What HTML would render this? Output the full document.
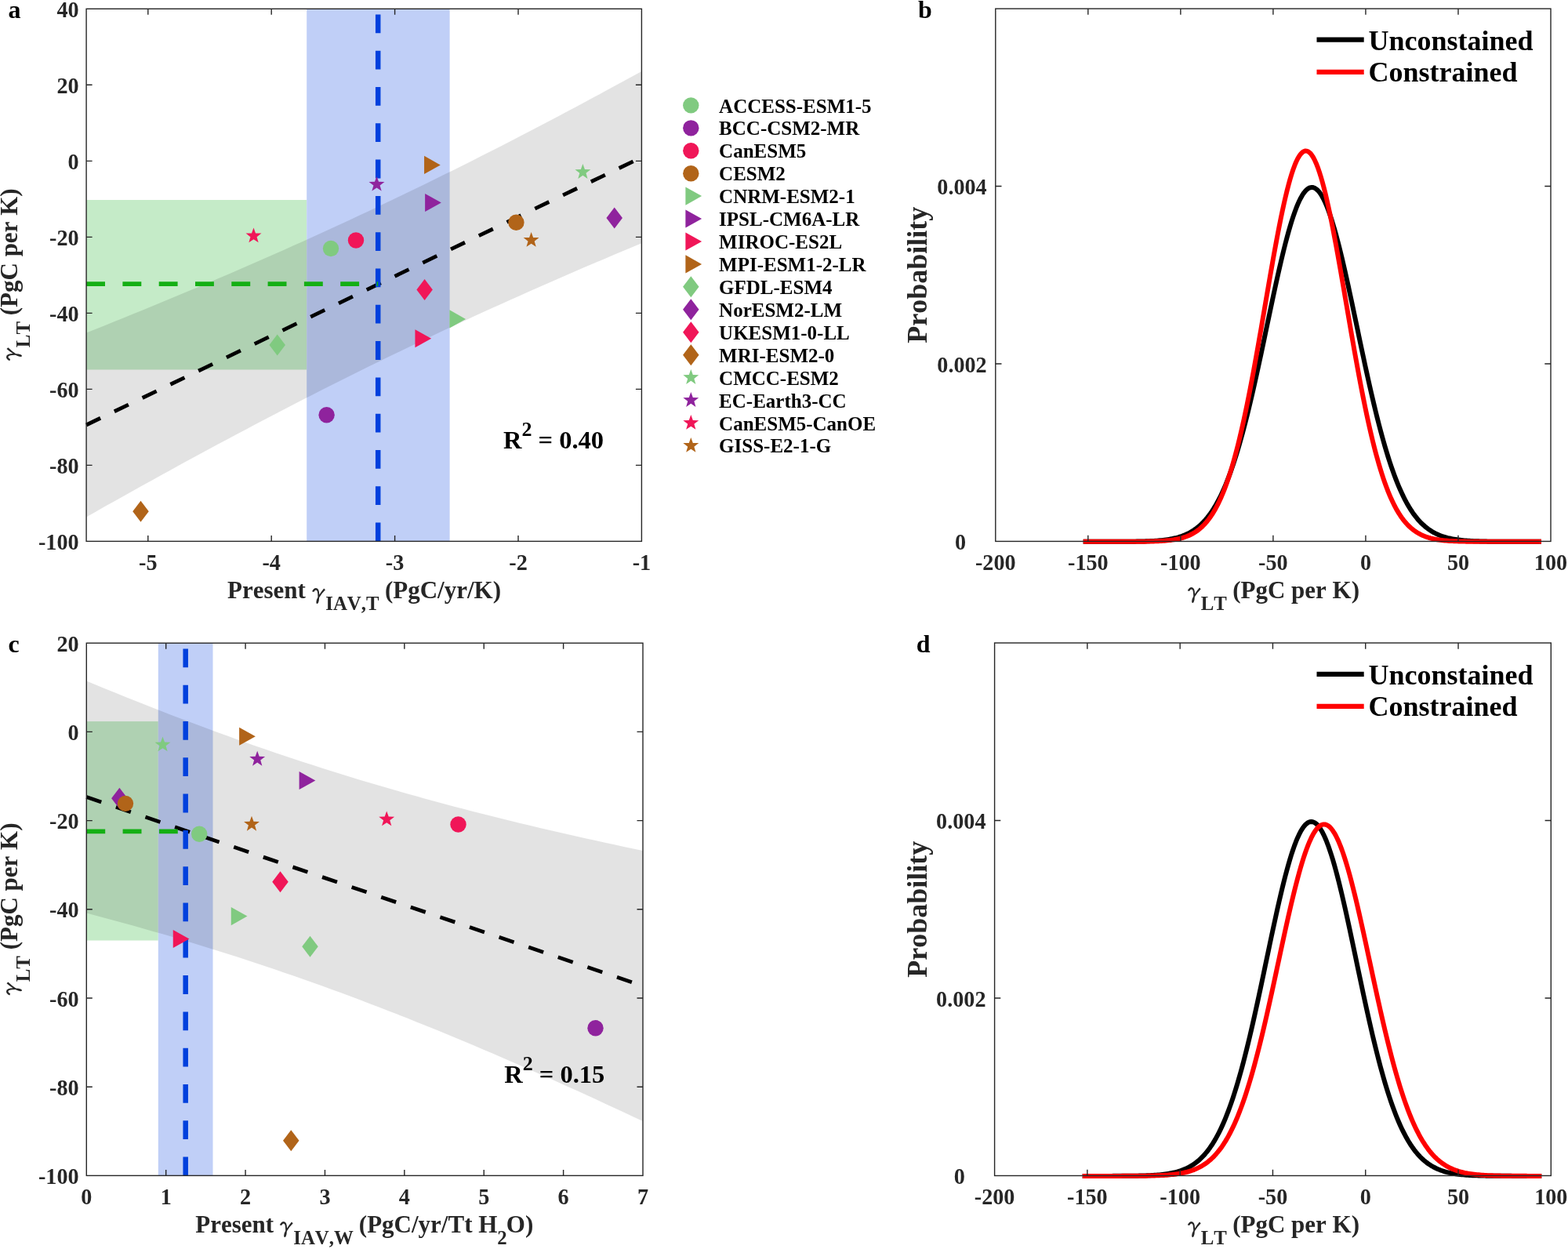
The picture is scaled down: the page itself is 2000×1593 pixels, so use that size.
<!DOCTYPE html><html><head><meta charset="utf-8"><style>html,body{margin:0;padding:0;background:#fff;width:2000px;height:1593px;overflow:hidden}svg{display:block}text{font-kerning:none}</style></head><body>
<svg width="2000" height="1593" viewBox="0 0 2000 1593" font-family="Liberation Serif, Times New Roman, serif">
<rect width="2000" height="1593" fill="#fff"/>
<g id="pa">
<rect x="110.10" y="255.0" width="281.10" height="216.5" fill="#C5EBC8"/>
<rect x="391.2" y="11.3" width="182.40" height="679.10" fill="#C0CFF7"/>
<path d="M110.10,424.51L122.11,419.72L134.11,414.92L146.12,410.09L158.12,405.23L170.13,400.36L182.13,395.46L194.14,390.53L206.14,385.58L218.15,380.61L230.15,375.61L242.16,370.58L254.16,365.52L266.17,360.44L278.17,355.32L290.18,350.18L302.18,345.01L314.19,339.81L326.19,334.57L338.20,329.31L350.20,324.01L362.21,318.68L374.21,313.32L386.22,307.93L398.22,302.50L410.23,297.04L422.23,291.55L434.24,286.02L446.24,280.45L458.25,274.85L470.25,269.22L482.26,263.55L494.26,257.84L506.27,252.10L518.27,246.33L530.28,240.52L542.28,234.67L554.29,228.79L566.29,222.87L578.30,216.91L590.30,210.93L602.31,204.90L614.31,198.85L626.32,192.75L638.32,186.63L650.33,180.47L662.33,174.28L674.34,168.05L686.34,161.79L698.35,155.50L710.35,149.18L722.36,142.83L734.36,136.45L746.37,130.03L758.37,123.59L770.38,117.12L782.38,110.62L794.39,104.09L806.39,97.54L818.40,90.96L818.40,310.27L806.39,315.26L794.39,320.28L782.38,325.32L770.38,330.39L758.37,335.49L746.37,340.62L734.36,345.78L722.36,350.97L710.35,356.19L698.35,361.44L686.34,366.72L674.34,372.03L662.33,377.38L650.33,382.76L638.32,388.17L626.32,393.61L614.31,399.09L602.31,404.61L590.30,410.15L578.30,415.74L566.29,421.36L554.29,427.01L542.28,432.70L530.28,438.42L518.27,444.18L506.27,449.98L494.26,455.81L482.26,461.67L470.25,467.58L458.25,473.51L446.24,479.48L434.24,485.49L422.23,491.53L410.23,497.61L398.22,503.72L386.22,509.86L374.21,516.04L362.21,522.25L350.20,528.49L338.20,534.77L326.19,541.08L314.19,547.41L302.18,553.78L290.18,560.18L278.17,566.61L266.17,573.07L254.16,579.56L242.16,586.07L230.15,592.61L218.15,599.18L206.14,605.78L194.14,612.40L182.13,619.05L170.13,625.72L158.12,632.41L146.12,639.13L134.11,645.87L122.11,652.64L110.10,659.42Z" fill="#000" fill-opacity="0.11"/>
<path d="M110.10,541.97L818.40,200.61" stroke="#000" stroke-width="4.8" stroke-dasharray="20 19.7" fill="none"/>
<path d="M482.2,690.4V11.3" stroke="#0040DD" stroke-width="6.5" stroke-dasharray="23.8 22.5" fill="none"/>
<path d="M110.10,362.1H482.2" stroke="#14AF14" stroke-width="5.8" stroke-dasharray="23.9 22.4" fill="none"/>
<path d="M677.60,295.90L680.12,302.88L687.54,303.12L681.67,307.67L683.74,314.80L677.60,310.63L671.46,314.80L673.53,307.67L667.66,303.12L675.08,302.88Z" fill="#B16419"/>
<path d="M323.50,290.40L326.02,297.38L333.44,297.62L327.57,302.17L329.64,309.30L323.50,305.13L317.36,309.30L319.43,302.17L313.56,297.62L320.98,297.38Z" fill="#F01658"/>
<path d="M480.50,224.70L483.02,231.68L490.44,231.92L484.57,236.47L486.64,243.60L480.50,239.43L474.36,243.60L476.43,236.47L470.56,231.92L477.98,231.68Z" fill="#8F239D"/>
<path d="M743.40,209.00L745.92,215.98L753.34,216.22L747.47,220.77L749.54,227.90L743.40,223.73L737.26,227.90L739.33,220.77L733.46,216.22L740.88,215.98Z" fill="#80CA80"/>
<path d="M179.50,638.70L189.75,652.20L179.50,665.70L169.25,652.20Z" fill="#B16419"/>
<path d="M541.60,355.90L551.85,369.40L541.60,382.90L531.35,369.40Z" fill="#F01658"/>
<path d="M783.70,264.50L793.95,278.00L783.70,291.50L773.45,278.00Z" fill="#8F239D"/>
<path d="M353.70,426.60L363.95,440.10L353.70,453.60L343.45,440.10Z" fill="#80CA80"/>
<path d="M541.05,198.85L561.75,210.40L541.05,221.95Z" fill="#B16419"/>
<path d="M529.45,420.15L550.15,431.70L529.45,443.25Z" fill="#F01658"/>
<path d="M542.15,246.95L562.85,258.50L542.15,270.05Z" fill="#8F239D"/>
<path d="M573.35,395.35L594.05,406.90L573.35,418.45Z" fill="#80CA80"/>
<circle cx="658.40" cy="283.70" r="10.2" fill="#B16419"/>
<circle cx="454.00" cy="306.50" r="10.2" fill="#F01658"/>
<circle cx="416.60" cy="529.20" r="10.2" fill="#8F239D"/>
<circle cx="422.00" cy="317.00" r="10.2" fill="#80CA80"/>
<rect x="110.10" y="11.30" width="708.30" height="679.10" fill="none" stroke="#262626" stroke-width="1.4"/>
<path d="M188.80,690.40V682.90M188.80,11.30V18.80M346.20,690.40V682.90M346.20,11.30V18.80M503.60,690.40V682.90M503.60,11.30V18.80M661.00,690.40V682.90M661.00,11.30V18.80M110.10,593.39H117.60M818.40,593.39H810.90M110.10,496.37H117.60M818.40,496.37H810.90M110.10,399.36H117.60M818.40,399.36H810.90M110.10,302.34H117.60M818.40,302.34H810.90M110.10,205.33H117.60M818.40,205.33H810.90M110.10,108.31H117.60M818.40,108.31H810.90" stroke="#262626" stroke-width="1.4" fill="none"/>
<text transform="translate(188.80,726.60) scale(1,1.07)" text-anchor="middle" font-size="28.2" font-weight="bold" fill="#262626">-5</text>
<text transform="translate(346.20,726.60) scale(1,1.07)" text-anchor="middle" font-size="28.2" font-weight="bold" fill="#262626">-4</text>
<text transform="translate(503.60,726.60) scale(1,1.07)" text-anchor="middle" font-size="28.2" font-weight="bold" fill="#262626">-3</text>
<text transform="translate(661.00,726.60) scale(1,1.07)" text-anchor="middle" font-size="28.2" font-weight="bold" fill="#262626">-2</text>
<text transform="translate(818.40,726.60) scale(1,1.07)" text-anchor="middle" font-size="28.2" font-weight="bold" fill="#262626">-1</text>
<text transform="translate(100.60,21.90) scale(1,1.07)" text-anchor="end" font-size="28.2" font-weight="bold" fill="#262626">40</text>
<text transform="translate(100.60,118.91) scale(1,1.07)" text-anchor="end" font-size="28.2" font-weight="bold" fill="#262626">20</text>
<text transform="translate(100.60,215.93) scale(1,1.07)" text-anchor="end" font-size="28.2" font-weight="bold" fill="#262626">0</text>
<text transform="translate(100.60,312.94) scale(1,1.07)" text-anchor="end" font-size="28.2" font-weight="bold" fill="#262626">-20</text>
<text transform="translate(100.60,409.96) scale(1,1.07)" text-anchor="end" font-size="28.2" font-weight="bold" fill="#262626">-40</text>
<text transform="translate(100.60,506.97) scale(1,1.07)" text-anchor="end" font-size="28.2" font-weight="bold" fill="#262626">-60</text>
<text transform="translate(100.60,603.99) scale(1,1.07)" text-anchor="end" font-size="28.2" font-weight="bold" fill="#262626">-80</text>
<text transform="translate(100.60,701.00) scale(1,1.07)" text-anchor="end" font-size="28.2" font-weight="bold" fill="#262626">-100</text>
<text x="641.9" y="571.6" font-size="32.5" font-weight="bold" fill="#000">R<tspan font-size="26" dy="-15.5">2</tspan><tspan dy="15.5"> = 0.40</tspan></text>
</g>
<g id="legend">
<circle cx="881.30" cy="134.40" r="10.2" fill="#80CA80"/>
<text x="917.1" y="143.50" font-size="25" font-weight="bold" fill="#000">ACCESS-ESM1-5</text>
<circle cx="881.30" cy="163.33" r="10.2" fill="#8F239D"/>
<text x="917.1" y="172.43" font-size="25" font-weight="bold" fill="#000">BCC-CSM2-MR</text>
<circle cx="881.30" cy="192.26" r="10.2" fill="#F01658"/>
<text x="917.1" y="201.36" font-size="25" font-weight="bold" fill="#000">CanESM5</text>
<circle cx="881.30" cy="221.19" r="10.2" fill="#B16419"/>
<text x="917.1" y="230.29" font-size="25" font-weight="bold" fill="#000">CESM2</text>
<path d="M874.40,238.57L895.10,250.12L874.40,261.67Z" fill="#80CA80"/>
<text x="917.1" y="259.22" font-size="25" font-weight="bold" fill="#000">CNRM-ESM2-1</text>
<path d="M874.40,267.50L895.10,279.05L874.40,290.60Z" fill="#8F239D"/>
<text x="917.1" y="288.15" font-size="25" font-weight="bold" fill="#000">IPSL-CM6A-LR</text>
<path d="M874.40,296.43L895.10,307.98L874.40,319.53Z" fill="#F01658"/>
<text x="917.1" y="317.08" font-size="25" font-weight="bold" fill="#000">MIROC-ES2L</text>
<path d="M874.40,325.36L895.10,336.91L874.40,348.46Z" fill="#B16419"/>
<text x="917.1" y="346.01" font-size="25" font-weight="bold" fill="#000">MPI-ESM1-2-LR</text>
<path d="M881.30,352.34L891.55,365.84L881.30,379.34L871.05,365.84Z" fill="#80CA80"/>
<text x="917.1" y="374.94" font-size="25" font-weight="bold" fill="#000">GFDL-ESM4</text>
<path d="M881.30,381.27L891.55,394.77L881.30,408.27L871.05,394.77Z" fill="#8F239D"/>
<text x="917.1" y="403.87" font-size="25" font-weight="bold" fill="#000">NorESM2-LM</text>
<path d="M881.30,410.20L891.55,423.70L881.30,437.20L871.05,423.70Z" fill="#F01658"/>
<text x="917.1" y="432.80" font-size="25" font-weight="bold" fill="#000">UKESM1-0-LL</text>
<path d="M881.30,439.13L891.55,452.63L881.30,466.13L871.05,452.63Z" fill="#B16419"/>
<text x="917.1" y="461.73" font-size="25" font-weight="bold" fill="#000">MRI-ESM2-0</text>
<path d="M881.30,471.11L883.82,478.09L891.24,478.33L885.37,482.88L887.44,490.01L881.30,485.84L875.16,490.01L877.23,482.88L871.36,478.33L878.78,478.09Z" fill="#80CA80"/>
<text x="917.1" y="490.66" font-size="25" font-weight="bold" fill="#000">CMCC-ESM2</text>
<path d="M881.30,500.04L883.82,507.02L891.24,507.26L885.37,511.81L887.44,518.94L881.30,514.77L875.16,518.94L877.23,511.81L871.36,507.26L878.78,507.02Z" fill="#8F239D"/>
<text x="917.1" y="519.59" font-size="25" font-weight="bold" fill="#000">EC-Earth3-CC</text>
<path d="M881.30,528.97L883.82,535.95L891.24,536.19L885.37,540.74L887.44,547.87L881.30,543.70L875.16,547.87L877.23,540.74L871.36,536.19L878.78,535.95Z" fill="#F01658"/>
<text x="917.1" y="548.52" font-size="25" font-weight="bold" fill="#000">CanESM5-CanOE</text>
<path d="M881.30,557.90L883.82,564.88L891.24,565.12L885.37,569.67L887.44,576.80L881.30,572.63L875.16,576.80L877.23,569.67L871.36,565.12L878.78,564.88Z" fill="#B16419"/>
<text x="917.1" y="577.45" font-size="25" font-weight="bold" fill="#000">GISS-E2-1-G</text>
</g>
<g id="pc">
<rect x="110.30" y="920.1" width="91.50" height="279.4" fill="#C5EBC8"/>
<rect x="201.8" y="820.2" width="69.70" height="679.20" fill="#C0CFF7"/>
<path d="M110.30,868.42L122.33,873.43L134.36,878.40L146.39,883.33L158.42,888.21L170.44,893.04L182.47,897.84L194.50,902.58L206.53,907.28L218.56,911.94L230.59,916.54L242.62,921.10L254.65,925.61L266.67,930.07L278.70,934.49L290.73,938.85L302.76,943.16L314.79,947.42L326.82,951.63L338.85,955.79L350.88,959.90L362.91,963.96L374.93,967.97L386.96,971.93L398.99,975.84L411.02,979.70L423.05,983.50L435.08,987.26L447.11,990.97L459.14,994.63L471.16,998.24L483.19,1001.81L495.22,1005.32L507.25,1008.79L519.28,1012.22L531.31,1015.59L543.34,1018.93L555.37,1022.21L567.39,1025.46L579.42,1028.66L591.45,1031.82L603.48,1034.94L615.51,1038.02L627.54,1041.05L639.57,1044.05L651.60,1047.02L663.63,1049.94L675.65,1052.83L687.68,1055.68L699.71,1058.50L711.74,1061.28L723.77,1064.03L735.80,1066.75L747.83,1069.44L759.86,1072.10L771.88,1074.72L783.91,1077.32L795.94,1079.89L807.97,1082.43L820.00,1084.95L820.00,1430.09L807.97,1424.44L795.94,1418.81L783.91,1413.21L771.88,1407.64L759.86,1402.09L747.83,1396.58L735.80,1391.10L723.77,1385.65L711.74,1380.23L699.71,1374.84L687.68,1369.49L675.65,1364.18L663.63,1358.89L651.60,1353.65L639.57,1348.44L627.54,1343.27L615.51,1338.14L603.48,1333.05L591.45,1328.00L579.42,1322.99L567.39,1318.02L555.37,1313.09L543.34,1308.21L531.31,1303.38L519.28,1298.58L507.25,1293.84L495.22,1289.14L483.19,1284.48L471.16,1279.88L459.14,1275.32L447.11,1270.81L435.08,1266.35L423.05,1261.94L411.02,1257.58L398.99,1253.27L386.96,1249.00L374.93,1244.79L362.91,1240.63L350.88,1236.52L338.85,1232.46L326.82,1228.45L314.79,1224.50L302.76,1220.59L290.73,1216.73L278.70,1212.92L266.67,1209.17L254.65,1205.46L242.62,1201.80L230.59,1198.19L218.56,1194.62L206.53,1191.11L194.50,1187.64L182.47,1184.22L170.44,1180.84L158.42,1177.51L146.39,1174.22L134.36,1170.97L122.33,1167.77L110.30,1164.61Z" fill="#000" fill-opacity="0.11"/>
<path d="M110.30,1016.52L820.00,1257.52" stroke="#000" stroke-width="4.8" stroke-dasharray="20 19.7" fill="none"/>
<path d="M236.7,1499.4V820.2" stroke="#0040DD" stroke-width="6.5" stroke-dasharray="23.8 22.5" fill="none"/>
<path d="M110.30,1060.4H236.7" stroke="#14AF14" stroke-width="5.8" stroke-dasharray="23.9 22.4" fill="none"/>
<path d="M321.00,1040.83L323.52,1047.81L330.94,1048.05L325.07,1052.60L327.14,1059.73L321.00,1055.56L314.86,1059.73L316.93,1052.60L311.06,1048.05L318.48,1047.81Z" fill="#B16419"/>
<path d="M493.20,1034.41L495.72,1041.39L503.14,1041.63L497.27,1046.18L499.34,1053.31L493.20,1049.14L487.06,1053.31L489.13,1046.18L483.26,1041.63L490.68,1041.39Z" fill="#F01658"/>
<path d="M328.20,957.75L330.72,964.73L338.14,964.97L332.27,969.52L334.34,976.65L328.20,972.48L322.06,976.65L324.13,969.52L318.26,964.97L325.68,964.73Z" fill="#8F239D"/>
<path d="M207.50,939.43L210.02,946.41L217.44,946.65L211.57,951.20L213.64,958.33L207.50,954.16L201.36,958.33L203.43,951.20L197.56,946.65L204.98,946.41Z" fill="#80CA80"/>
<path d="M371.25,1441.33L381.50,1454.83L371.25,1468.33L361.00,1454.83Z" fill="#B16419"/>
<path d="M357.50,1111.34L367.75,1124.84L357.50,1138.34L347.25,1124.84Z" fill="#F01658"/>
<path d="M152.40,1004.70L162.65,1018.20L152.40,1031.70L142.15,1018.20Z" fill="#8F239D"/>
<path d="M395.50,1193.84L405.75,1207.34L395.50,1220.84L385.25,1207.34Z" fill="#80CA80"/>
<path d="M305.15,927.77L325.85,939.32L305.15,950.87Z" fill="#B16419"/>
<path d="M220.75,1185.99L241.45,1197.54L220.75,1209.09Z" fill="#F01658"/>
<path d="M381.65,983.89L402.35,995.44L381.65,1006.99Z" fill="#8F239D"/>
<path d="M294.75,1157.05L315.45,1168.60L294.75,1180.15Z" fill="#80CA80"/>
<circle cx="160.00" cy="1024.85" r="10.2" fill="#B16419"/>
<circle cx="584.50" cy="1051.45" r="10.2" fill="#F01658"/>
<circle cx="759.50" cy="1311.31" r="10.2" fill="#8F239D"/>
<circle cx="254.20" cy="1063.70" r="10.2" fill="#80CA80"/>
<rect x="110.30" y="820.20" width="709.70" height="679.20" fill="none" stroke="#262626" stroke-width="1.4"/>
<path d="M211.69,1499.40V1491.90M211.69,820.20V827.70M313.07,1499.40V1491.90M313.07,820.20V827.70M414.46,1499.40V1491.90M414.46,820.20V827.70M515.84,1499.40V1491.90M515.84,820.20V827.70M617.23,1499.40V1491.90M617.23,820.20V827.70M718.61,1499.40V1491.90M718.61,820.20V827.70M110.30,1386.20H117.80M820.00,1386.20H812.50M110.30,1273.00H117.80M820.00,1273.00H812.50M110.30,1159.80H117.80M820.00,1159.80H812.50M110.30,1046.60H117.80M820.00,1046.60H812.50M110.30,933.40H117.80M820.00,933.40H812.50" stroke="#262626" stroke-width="1.4" fill="none"/>
<text transform="translate(110.30,1535.60) scale(1,1.07)" text-anchor="middle" font-size="28.2" font-weight="bold" fill="#262626">0</text>
<text transform="translate(211.69,1535.60) scale(1,1.07)" text-anchor="middle" font-size="28.2" font-weight="bold" fill="#262626">1</text>
<text transform="translate(313.07,1535.60) scale(1,1.07)" text-anchor="middle" font-size="28.2" font-weight="bold" fill="#262626">2</text>
<text transform="translate(414.46,1535.60) scale(1,1.07)" text-anchor="middle" font-size="28.2" font-weight="bold" fill="#262626">3</text>
<text transform="translate(515.84,1535.60) scale(1,1.07)" text-anchor="middle" font-size="28.2" font-weight="bold" fill="#262626">4</text>
<text transform="translate(617.23,1535.60) scale(1,1.07)" text-anchor="middle" font-size="28.2" font-weight="bold" fill="#262626">5</text>
<text transform="translate(718.61,1535.60) scale(1,1.07)" text-anchor="middle" font-size="28.2" font-weight="bold" fill="#262626">6</text>
<text transform="translate(820.00,1535.60) scale(1,1.07)" text-anchor="middle" font-size="28.2" font-weight="bold" fill="#262626">7</text>
<text transform="translate(100.60,830.80) scale(1,1.07)" text-anchor="end" font-size="28.2" font-weight="bold" fill="#262626">20</text>
<text transform="translate(100.60,944.00) scale(1,1.07)" text-anchor="end" font-size="28.2" font-weight="bold" fill="#262626">0</text>
<text transform="translate(100.60,1057.20) scale(1,1.07)" text-anchor="end" font-size="28.2" font-weight="bold" fill="#262626">-20</text>
<text transform="translate(100.60,1170.40) scale(1,1.07)" text-anchor="end" font-size="28.2" font-weight="bold" fill="#262626">-40</text>
<text transform="translate(100.60,1283.60) scale(1,1.07)" text-anchor="end" font-size="28.2" font-weight="bold" fill="#262626">-60</text>
<text transform="translate(100.60,1396.80) scale(1,1.07)" text-anchor="end" font-size="28.2" font-weight="bold" fill="#262626">-80</text>
<text transform="translate(100.60,1510.00) scale(1,1.07)" text-anchor="end" font-size="28.2" font-weight="bold" fill="#262626">-100</text>
<text x="643.2" y="1380.5" font-size="32.5" font-weight="bold" fill="#000">R<tspan font-size="26" dy="-15.5">2</tspan><tspan dy="15.5"> = 0.15</tspan></text>
</g>
<g>
<path d="M1381.70,690.85L1383.65,690.85L1385.60,690.85L1387.56,690.85L1389.51,690.85L1391.47,690.85L1393.42,690.85L1395.37,690.85L1397.33,690.85L1399.28,690.84L1401.24,690.84L1403.19,690.84L1405.14,690.84L1407.10,690.84L1409.05,690.84L1411.01,690.84L1412.96,690.83L1414.91,690.83L1416.87,690.83L1418.82,690.82L1420.78,690.82L1422.73,690.82L1424.68,690.81L1426.64,690.80L1428.59,690.80L1430.55,690.79L1432.50,690.78L1434.46,690.77L1436.41,690.76L1438.36,690.74L1440.32,690.73L1442.27,690.71L1444.23,690.69L1446.18,690.67L1448.13,690.64L1450.09,690.61L1452.04,690.57L1454.00,690.54L1455.95,690.49L1457.90,690.44L1459.86,690.39L1461.81,690.33L1463.77,690.26L1465.72,690.18L1467.67,690.09L1469.63,690.00L1471.58,689.89L1473.54,689.77L1475.49,689.63L1477.44,689.48L1479.40,689.32L1481.35,689.13L1483.31,688.93L1485.26,688.70L1487.22,688.45L1489.17,688.17L1491.12,687.86L1493.08,687.52L1495.03,687.15L1496.99,686.74L1498.94,686.30L1500.89,685.81L1502.85,685.27L1504.80,684.68L1506.76,684.04L1508.71,683.34L1510.66,682.57L1512.62,681.74L1514.57,680.84L1516.53,679.86L1518.48,678.81L1520.43,677.66L1522.39,676.42L1524.34,675.08L1526.30,673.64L1528.25,672.09L1530.20,670.42L1532.16,668.63L1534.11,666.71L1536.07,664.66L1538.02,662.46L1539.97,660.12L1541.93,657.62L1543.88,654.96L1545.84,652.13L1547.79,649.12L1549.75,645.93L1551.70,642.56L1553.65,638.99L1555.61,635.22L1557.56,631.25L1559.52,627.07L1561.47,622.67L1563.42,618.05L1565.38,613.21L1567.33,608.15L1569.29,602.85L1571.24,597.33L1573.19,591.57L1575.15,585.58L1577.10,579.35L1579.06,572.90L1581.01,566.22L1582.96,559.31L1584.92,552.17L1586.87,544.82L1588.83,537.25L1590.78,529.48L1592.73,521.52L1594.69,513.36L1596.64,505.03L1598.60,496.53L1600.55,487.87L1602.50,479.08L1604.46,470.16L1606.41,461.13L1608.37,452.00L1610.32,442.80L1612.28,433.54L1614.23,424.24L1616.18,414.93L1618.14,405.62L1620.09,396.34L1622.05,387.11L1624.00,377.95L1625.95,368.88L1627.91,359.94L1629.86,351.13L1631.82,342.50L1633.77,334.06L1635.72,325.84L1637.68,317.86L1639.63,310.14L1641.59,302.71L1643.54,295.60L1645.49,288.82L1647.45,282.39L1649.40,276.34L1651.36,270.69L1653.31,265.45L1655.26,260.64L1657.22,256.28L1659.17,252.39L1661.13,248.96L1663.08,246.03L1665.03,243.59L1666.99,241.66L1668.94,240.25L1670.90,239.34L1672.85,238.96L1674.81,239.10L1676.76,239.77L1678.71,240.95L1680.67,242.64L1682.62,244.85L1684.58,247.56L1686.53,250.75L1688.48,254.43L1690.44,258.58L1692.39,263.19L1694.35,268.23L1696.30,273.69L1698.25,279.56L1700.21,285.82L1702.16,292.44L1704.12,299.40L1706.07,306.69L1708.02,314.28L1709.98,322.14L1711.93,330.25L1713.89,338.60L1715.84,347.15L1717.79,355.87L1719.75,364.75L1721.70,373.77L1723.66,382.89L1725.61,392.09L1727.56,401.35L1729.52,410.65L1731.47,419.97L1733.43,429.27L1735.38,438.55L1737.34,447.78L1739.29,456.94L1741.24,466.02L1743.20,474.99L1745.15,483.85L1747.11,492.57L1749.06,501.14L1751.01,509.55L1752.97,517.79L1754.92,525.85L1756.88,533.71L1758.83,541.37L1760.78,548.82L1762.74,556.05L1764.69,563.07L1766.65,569.86L1768.60,576.42L1770.55,582.75L1772.51,588.84L1774.46,594.71L1776.42,600.34L1778.37,605.74L1780.32,610.91L1782.28,615.86L1784.23,620.57L1786.19,625.07L1788.14,629.35L1790.09,633.42L1792.05,637.28L1794.00,640.94L1795.96,644.41L1797.91,647.68L1799.87,650.77L1801.82,653.68L1803.77,656.42L1805.73,658.99L1807.68,661.41L1809.64,663.67L1811.59,665.79L1813.54,667.77L1815.50,669.62L1817.45,671.34L1819.41,672.94L1821.36,674.43L1823.31,675.82L1825.27,677.10L1827.22,678.29L1829.18,679.39L1831.13,680.40L1833.08,681.34L1835.04,682.20L1836.99,682.99L1838.95,683.72L1840.90,684.39L1842.85,685.00L1844.81,685.56L1846.76,686.08L1848.72,686.54L1850.67,686.97L1852.62,687.36L1854.58,687.71L1856.53,688.03L1858.49,688.32L1860.44,688.59L1862.40,688.82L1864.35,689.04L1866.30,689.23L1868.26,689.41L1870.21,689.57L1872.17,689.71L1874.12,689.84L1876.07,689.95L1878.03,690.05L1879.98,690.14L1881.94,690.22L1883.89,690.30L1885.84,690.36L1887.80,690.42L1889.75,690.47L1891.71,690.52L1893.66,690.56L1895.61,690.59L1897.57,690.63L1899.52,690.65L1901.48,690.68L1903.43,690.70L1905.38,690.72L1907.34,690.74L1909.29,690.75L1911.25,690.76L1913.20,690.77L1915.15,690.78L1917.11,690.79L1919.06,690.80L1921.02,690.81L1922.97,690.81L1924.93,690.82L1926.88,690.82L1928.83,690.83L1930.79,690.83L1932.74,690.83L1934.70,690.84L1936.65,690.84L1938.60,690.84L1940.56,690.84L1942.51,690.84L1944.47,690.84L1946.42,690.84L1948.37,690.85L1950.33,690.85L1952.28,690.85L1954.24,690.85L1956.19,690.85L1958.14,690.85L1960.10,690.85L1962.05,690.85L1964.01,690.85L1965.96,690.85" stroke="#000" stroke-width="6" fill="none" stroke-linejoin="round"/>
<path d="M1381.70,690.85L1383.65,690.85L1385.60,690.85L1387.56,690.85L1389.51,690.85L1391.47,690.85L1393.42,690.85L1395.37,690.85L1397.33,690.85L1399.28,690.85L1401.24,690.85L1403.19,690.85L1405.14,690.85L1407.10,690.85L1409.05,690.85L1411.01,690.85L1412.96,690.85L1414.91,690.85L1416.87,690.85L1418.82,690.84L1420.78,690.84L1422.73,690.84L1424.68,690.84L1426.64,690.84L1428.59,690.84L1430.55,690.83L1432.50,690.83L1434.46,690.83L1436.41,690.82L1438.36,690.82L1440.32,690.81L1442.27,690.80L1444.23,690.80L1446.18,690.79L1448.13,690.78L1450.09,690.76L1452.04,690.75L1454.00,690.73L1455.95,690.71L1457.90,690.69L1459.86,690.66L1461.81,690.63L1463.77,690.60L1465.72,690.56L1467.67,690.51L1469.63,690.46L1471.58,690.40L1473.54,690.33L1475.49,690.26L1477.44,690.17L1479.40,690.07L1481.35,689.96L1483.31,689.83L1485.26,689.69L1487.22,689.52L1489.17,689.34L1491.12,689.14L1493.08,688.91L1495.03,688.65L1496.99,688.36L1498.94,688.03L1500.89,687.67L1502.85,687.27L1504.80,686.82L1506.76,686.32L1508.71,685.77L1510.66,685.16L1512.62,684.49L1514.57,683.74L1516.53,682.92L1518.48,682.02L1520.43,681.03L1522.39,679.94L1524.34,678.75L1526.30,677.45L1528.25,676.03L1530.20,674.48L1532.16,672.80L1534.11,670.97L1536.07,668.99L1538.02,666.84L1539.97,664.52L1541.93,662.02L1543.88,659.33L1545.84,656.43L1547.79,653.32L1549.75,649.99L1551.70,646.42L1553.65,642.61L1555.61,638.55L1557.56,634.23L1559.52,629.64L1561.47,624.77L1563.42,619.61L1565.38,614.17L1567.33,608.42L1569.29,602.37L1571.24,596.01L1573.19,589.33L1575.15,582.34L1577.10,575.04L1579.06,567.41L1581.01,559.48L1582.96,551.23L1584.92,542.67L1586.87,533.82L1588.83,524.67L1590.78,515.24L1592.73,505.54L1594.69,495.58L1596.64,485.38L1598.60,474.95L1600.55,464.31L1602.50,453.49L1604.46,442.51L1606.41,431.38L1608.37,420.15L1610.32,408.83L1612.28,397.45L1614.23,386.05L1616.18,374.66L1618.14,363.30L1620.09,352.03L1622.05,340.86L1624.00,329.84L1625.95,319.00L1627.91,308.37L1629.86,298.01L1631.82,287.94L1633.77,278.20L1635.72,268.82L1637.68,259.84L1639.63,251.30L1641.59,243.23L1643.54,235.66L1645.49,228.61L1647.45,222.13L1649.40,216.23L1651.36,210.94L1653.31,206.28L1655.26,202.27L1657.22,198.93L1659.17,196.27L1661.13,194.30L1663.08,193.04L1665.03,192.48L1666.99,192.63L1668.94,193.49L1670.90,195.05L1672.85,197.31L1674.81,200.26L1676.76,203.88L1678.71,208.17L1680.67,213.09L1682.62,218.64L1684.58,224.79L1686.53,231.52L1688.48,238.79L1690.44,246.57L1692.39,254.85L1694.35,263.58L1696.30,272.73L1698.25,282.26L1700.21,292.15L1702.16,302.35L1704.12,312.82L1706.07,323.54L1708.02,334.46L1709.98,345.55L1711.93,356.77L1713.89,368.08L1715.84,379.46L1717.79,390.86L1719.75,402.25L1721.70,413.61L1723.66,424.90L1725.61,436.09L1727.56,447.16L1729.52,458.07L1731.47,468.82L1733.43,479.37L1735.38,489.70L1737.34,499.81L1739.29,509.66L1741.24,519.25L1743.20,528.56L1745.15,537.59L1747.11,546.32L1749.06,554.74L1751.01,562.86L1752.97,570.66L1754.92,578.15L1756.88,585.33L1758.83,592.18L1760.78,598.72L1762.74,604.96L1764.69,610.88L1766.65,616.50L1768.60,621.82L1770.55,626.86L1772.51,631.61L1774.46,636.08L1776.42,640.29L1778.37,644.25L1780.32,647.95L1782.28,651.42L1784.23,654.66L1786.19,657.68L1788.14,660.49L1790.09,663.10L1792.05,665.52L1794.00,667.77L1795.96,669.84L1797.91,671.76L1799.87,673.52L1801.82,675.15L1803.77,676.64L1805.73,678.01L1807.68,679.27L1809.64,680.41L1811.59,681.46L1813.54,682.41L1815.50,683.28L1817.45,684.07L1819.41,684.78L1821.36,685.43L1823.31,686.01L1825.27,686.54L1827.22,687.02L1829.18,687.44L1831.13,687.83L1833.08,688.17L1835.04,688.48L1836.99,688.76L1838.95,689.01L1840.90,689.23L1842.85,689.42L1844.81,689.60L1846.76,689.75L1848.72,689.89L1850.67,690.01L1852.62,690.11L1854.58,690.21L1856.53,690.29L1858.49,690.36L1860.44,690.43L1862.40,690.48L1864.35,690.53L1866.30,690.58L1868.26,690.61L1870.21,690.65L1872.17,690.67L1874.12,690.70L1876.07,690.72L1878.03,690.74L1879.98,690.75L1881.94,690.77L1883.89,690.78L1885.84,690.79L1887.80,690.80L1889.75,690.81L1891.71,690.81L1893.66,690.82L1895.61,690.82L1897.57,690.83L1899.52,690.83L1901.48,690.83L1903.43,690.84L1905.38,690.84L1907.34,690.84L1909.29,690.84L1911.25,690.84L1913.20,690.84L1915.15,690.85L1917.11,690.85L1919.06,690.85L1921.02,690.85L1922.97,690.85L1924.93,690.85L1926.88,690.85L1928.83,690.85L1930.79,690.85L1932.74,690.85L1934.70,690.85L1936.65,690.85L1938.60,690.85L1940.56,690.85L1942.51,690.85L1944.47,690.85L1946.42,690.85L1948.37,690.85L1950.33,690.85L1952.28,690.85L1954.24,690.85L1956.19,690.85L1958.14,690.85L1960.10,690.85L1962.05,690.85L1964.01,690.85L1965.96,690.85" stroke="#FF0000" stroke-width="6" fill="none" stroke-linejoin="round"/>
<rect x="1269.80" y="11.10" width="708.20" height="679.35" fill="none" stroke="#262626" stroke-width="1.4"/>
<path d="M1387.83,690.45V682.75M1387.83,11.10V18.80M1505.87,690.45V682.75M1505.87,11.10V18.80M1623.90,690.45V682.75M1623.90,11.10V18.80M1741.93,690.45V682.75M1741.93,11.10V18.80M1859.97,690.45V682.75M1859.97,11.10V18.80M1269.80,464.00H1277.50M1978.00,464.00H1970.30M1269.80,237.55H1277.50M1978.00,237.55H1970.30" stroke="#262626" stroke-width="1.4" fill="none"/>
<text transform="translate(1269.80,726.55) scale(1,1.07)" text-anchor="middle" font-size="28.2" font-weight="bold" fill="#262626">-200</text>
<text transform="translate(1387.83,726.55) scale(1,1.07)" text-anchor="middle" font-size="28.2" font-weight="bold" fill="#262626">-150</text>
<text transform="translate(1505.87,726.55) scale(1,1.07)" text-anchor="middle" font-size="28.2" font-weight="bold" fill="#262626">-100</text>
<text transform="translate(1623.90,726.55) scale(1,1.07)" text-anchor="middle" font-size="28.2" font-weight="bold" fill="#262626">-50</text>
<text transform="translate(1741.93,726.55) scale(1,1.07)" text-anchor="middle" font-size="28.2" font-weight="bold" fill="#262626">0</text>
<text transform="translate(1859.97,726.55) scale(1,1.07)" text-anchor="middle" font-size="28.2" font-weight="bold" fill="#262626">50</text>
<text transform="translate(1978.00,726.55) scale(1,1.07)" text-anchor="middle" font-size="28.2" font-weight="bold" fill="#262626">100</text>
<text transform="translate(1232.00,701.35) scale(1,1.07)" text-anchor="end" font-size="28.2" font-weight="bold" fill="#262626">0</text>
<text transform="translate(1258.70,474.90) scale(1,1.07)" text-anchor="end" font-size="28.2" font-weight="bold" fill="#262626">0.002</text>
<text transform="translate(1258.70,248.45) scale(1,1.07)" text-anchor="end" font-size="28.2" font-weight="bold" fill="#262626">0.004</text>
<path d="M1679.5,50.70H1739.7" stroke="#000" stroke-width="6.2" fill="none"/>
<path d="M1679.5,91.80H1739.7" stroke="#FF0000" stroke-width="6.2" fill="none"/>
<text x="1745.5" y="63.50" font-size="36" font-weight="bold" fill="#000">Unconstained</text>
<text x="1745.5" y="104.00" font-size="36" font-weight="bold" fill="#000">Constrained</text>
<text x="1182.5" y="350.70" transform="rotate(-90 1182.5 350.70)" text-anchor="middle" font-size="36" font-weight="bold" fill="#262626">Probability</text>
</g>
<g>
<path d="M1380.73,1499.90L1382.69,1499.90L1384.65,1499.90L1386.61,1499.90L1388.57,1499.90L1390.52,1499.90L1392.48,1499.90L1394.44,1499.90L1396.40,1499.90L1398.36,1499.89L1400.31,1499.89L1402.27,1499.89L1404.23,1499.89L1406.19,1499.89L1408.15,1499.89L1410.11,1499.89L1412.06,1499.88L1414.02,1499.88L1415.98,1499.88L1417.94,1499.88L1419.90,1499.87L1421.85,1499.87L1423.81,1499.86L1425.77,1499.85L1427.73,1499.85L1429.69,1499.84L1431.65,1499.83L1433.60,1499.82L1435.56,1499.81L1437.52,1499.79L1439.48,1499.78L1441.44,1499.76L1443.40,1499.74L1445.35,1499.72L1447.31,1499.69L1449.27,1499.66L1451.23,1499.63L1453.19,1499.59L1455.14,1499.55L1457.10,1499.50L1459.06,1499.44L1461.02,1499.38L1462.98,1499.31L1464.94,1499.24L1466.89,1499.15L1468.85,1499.05L1470.81,1498.94L1472.77,1498.82L1474.73,1498.69L1476.68,1498.54L1478.64,1498.37L1480.60,1498.19L1482.56,1497.98L1484.52,1497.75L1486.48,1497.50L1488.43,1497.22L1490.39,1496.92L1492.35,1496.58L1494.31,1496.21L1496.27,1495.80L1498.22,1495.35L1500.18,1494.86L1502.14,1494.32L1504.10,1493.73L1506.06,1493.09L1508.02,1492.38L1509.97,1491.62L1511.93,1490.79L1513.89,1489.88L1515.85,1488.90L1517.81,1487.84L1519.76,1486.69L1521.72,1485.45L1523.68,1484.10L1525.64,1482.66L1527.60,1481.10L1529.56,1479.43L1531.51,1477.63L1533.47,1475.70L1535.43,1473.64L1537.39,1471.43L1539.35,1469.08L1541.31,1466.57L1543.26,1463.89L1545.22,1461.05L1547.18,1458.03L1549.14,1454.83L1551.10,1451.43L1553.05,1447.85L1555.01,1444.06L1556.97,1440.07L1558.93,1435.87L1560.89,1431.45L1562.85,1426.81L1564.80,1421.94L1566.76,1416.85L1568.72,1411.53L1570.68,1405.98L1572.64,1400.19L1574.59,1394.17L1576.55,1387.91L1578.51,1381.43L1580.47,1374.71L1582.43,1367.77L1584.39,1360.60L1586.34,1353.21L1588.30,1345.61L1590.26,1337.81L1592.22,1329.81L1594.18,1321.62L1596.13,1313.25L1598.09,1304.72L1600.05,1296.03L1602.01,1287.20L1603.97,1278.25L1605.93,1269.19L1607.88,1260.03L1609.84,1250.80L1611.80,1241.52L1613.76,1232.20L1615.72,1222.87L1617.68,1213.54L1619.63,1204.25L1621.59,1195.00L1623.55,1185.83L1625.51,1176.76L1627.47,1167.81L1629.42,1159.01L1631.38,1150.39L1633.34,1141.96L1635.30,1133.75L1637.26,1125.79L1639.22,1118.09L1641.17,1110.70L1643.13,1103.61L1645.09,1096.87L1647.05,1090.49L1649.01,1084.49L1650.96,1078.88L1652.92,1073.70L1654.88,1068.96L1656.84,1064.66L1658.80,1060.83L1660.76,1057.49L1662.71,1054.63L1664.67,1052.28L1666.63,1050.43L1668.59,1049.10L1670.55,1048.29L1672.50,1048.00L1674.46,1048.24L1676.42,1049.00L1678.38,1050.28L1680.34,1052.07L1682.30,1054.38L1684.25,1057.19L1686.21,1060.49L1688.17,1064.27L1690.13,1068.52L1692.09,1073.22L1694.04,1078.36L1696.00,1083.92L1697.96,1089.89L1699.92,1096.23L1701.88,1102.94L1703.84,1109.99L1705.79,1117.36L1707.75,1125.03L1709.71,1132.96L1711.67,1141.15L1713.63,1149.56L1715.59,1158.17L1717.54,1166.95L1719.50,1175.88L1721.46,1184.94L1723.42,1194.10L1725.38,1203.34L1727.33,1212.64L1729.29,1221.96L1731.25,1231.29L1733.21,1240.61L1735.17,1249.90L1737.13,1259.14L1739.08,1268.30L1741.04,1277.37L1743.00,1286.33L1744.96,1295.17L1746.92,1303.88L1748.87,1312.43L1750.83,1320.81L1752.79,1329.02L1754.75,1337.04L1756.71,1344.86L1758.67,1352.48L1760.62,1359.89L1762.58,1367.08L1764.54,1374.05L1766.50,1380.79L1768.46,1387.29L1770.41,1393.57L1772.37,1399.61L1774.33,1405.42L1776.29,1411.00L1778.25,1416.34L1780.21,1421.46L1782.16,1426.34L1784.12,1431.00L1786.08,1435.45L1788.04,1439.67L1790.00,1443.68L1791.96,1447.49L1793.91,1451.09L1795.87,1454.50L1797.83,1457.73L1799.79,1460.76L1801.75,1463.62L1803.70,1466.31L1805.66,1468.84L1807.62,1471.21L1809.58,1473.43L1811.54,1475.51L1813.50,1477.45L1815.45,1479.26L1817.41,1480.94L1819.37,1482.51L1821.33,1483.97L1823.29,1485.32L1825.24,1486.57L1827.20,1487.73L1829.16,1488.80L1831.12,1489.79L1833.08,1490.70L1835.04,1491.54L1836.99,1492.31L1838.95,1493.02L1840.91,1493.67L1842.87,1494.26L1844.83,1494.81L1846.78,1495.30L1848.74,1495.76L1850.70,1496.17L1852.66,1496.55L1854.62,1496.89L1856.58,1497.20L1858.53,1497.48L1860.49,1497.73L1862.45,1497.96L1864.41,1498.17L1866.37,1498.35L1868.32,1498.52L1870.28,1498.67L1872.24,1498.81L1874.20,1498.93L1876.16,1499.04L1878.12,1499.14L1880.07,1499.23L1882.03,1499.31L1883.99,1499.37L1885.95,1499.44L1887.91,1499.49L1889.87,1499.54L1891.82,1499.58L1893.78,1499.62L1895.74,1499.66L1897.70,1499.69L1899.66,1499.71L1901.61,1499.74L1903.57,1499.76L1905.53,1499.78L1907.49,1499.79L1909.45,1499.81L1911.41,1499.82L1913.36,1499.83L1915.32,1499.84L1917.28,1499.85L1919.24,1499.85L1921.20,1499.86L1923.15,1499.87L1925.11,1499.87L1927.07,1499.87L1929.03,1499.88L1930.99,1499.88L1932.95,1499.88L1934.90,1499.89L1936.86,1499.89L1938.82,1499.89L1940.78,1499.89L1942.74,1499.89L1944.69,1499.89L1946.65,1499.89L1948.61,1499.90L1950.57,1499.90L1952.53,1499.90L1954.49,1499.90L1956.44,1499.90L1958.40,1499.90L1960.36,1499.90L1962.32,1499.90L1964.28,1499.90L1966.24,1499.90" stroke="#000" stroke-width="6" fill="none" stroke-linejoin="round"/>
<path d="M1380.73,1499.90L1382.69,1499.90L1384.65,1499.90L1386.61,1499.90L1388.57,1499.90L1390.52,1499.90L1392.48,1499.90L1394.44,1499.90L1396.40,1499.90L1398.36,1499.90L1400.31,1499.90L1402.27,1499.90L1404.23,1499.90L1406.19,1499.90L1408.15,1499.90L1410.11,1499.89L1412.06,1499.89L1414.02,1499.89L1415.98,1499.89L1417.94,1499.89L1419.90,1499.89L1421.85,1499.89L1423.81,1499.88L1425.77,1499.88L1427.73,1499.88L1429.69,1499.88L1431.65,1499.87L1433.60,1499.87L1435.56,1499.86L1437.52,1499.86L1439.48,1499.85L1441.44,1499.84L1443.40,1499.83L1445.35,1499.82L1447.31,1499.81L1449.27,1499.80L1451.23,1499.78L1453.19,1499.77L1455.14,1499.75L1457.10,1499.73L1459.06,1499.70L1461.02,1499.67L1462.98,1499.64L1464.94,1499.61L1466.89,1499.57L1468.85,1499.52L1470.81,1499.47L1472.77,1499.41L1474.73,1499.35L1476.68,1499.28L1478.64,1499.20L1480.60,1499.11L1482.56,1499.01L1484.52,1498.90L1486.48,1498.77L1488.43,1498.64L1490.39,1498.48L1492.35,1498.31L1494.31,1498.13L1496.27,1497.92L1498.22,1497.69L1500.18,1497.43L1502.14,1497.15L1504.10,1496.85L1506.06,1496.51L1508.02,1496.14L1509.97,1495.73L1511.93,1495.28L1513.89,1494.79L1515.85,1494.26L1517.81,1493.67L1519.76,1493.04L1521.72,1492.34L1523.68,1491.59L1525.64,1490.77L1527.60,1489.88L1529.56,1488.92L1531.51,1487.88L1533.47,1486.75L1535.43,1485.54L1537.39,1484.23L1539.35,1482.82L1541.31,1481.30L1543.26,1479.67L1545.22,1477.93L1547.18,1476.06L1549.14,1474.06L1551.10,1471.92L1553.05,1469.64L1555.01,1467.22L1556.97,1464.63L1558.93,1461.89L1560.89,1458.98L1562.85,1455.89L1564.80,1452.63L1566.76,1449.18L1568.72,1445.54L1570.68,1441.70L1572.64,1437.66L1574.59,1433.42L1576.55,1428.96L1578.51,1424.29L1580.47,1419.41L1582.43,1414.30L1584.39,1408.98L1586.34,1403.43L1588.30,1397.66L1590.26,1391.66L1592.22,1385.44L1594.18,1379.00L1596.13,1372.33L1598.09,1365.45L1600.05,1358.36L1602.01,1351.06L1603.97,1343.57L1605.93,1335.87L1607.88,1327.99L1609.84,1319.94L1611.80,1311.72L1613.76,1303.34L1615.72,1294.82L1617.68,1286.17L1619.63,1277.40L1621.59,1268.53L1623.55,1259.58L1625.51,1250.57L1627.47,1241.50L1629.42,1232.41L1631.38,1223.30L1633.34,1214.21L1635.30,1205.15L1637.26,1196.13L1639.22,1187.20L1641.17,1178.36L1643.13,1169.65L1645.09,1161.07L1647.05,1152.67L1649.01,1144.45L1650.96,1136.45L1652.92,1128.68L1654.88,1121.17L1656.84,1113.94L1658.80,1107.02L1660.76,1100.41L1662.71,1094.16L1664.67,1088.26L1666.63,1082.75L1668.59,1077.64L1670.55,1072.94L1672.50,1068.67L1674.46,1064.85L1676.42,1061.49L1678.38,1058.59L1680.34,1056.18L1682.30,1054.25L1684.25,1052.81L1686.21,1051.87L1688.17,1051.43L1690.13,1051.50L1692.09,1052.06L1694.04,1053.13L1696.00,1054.69L1697.96,1056.75L1699.92,1059.29L1701.88,1062.30L1703.84,1065.78L1705.79,1069.72L1707.75,1074.09L1709.71,1078.90L1711.67,1084.12L1713.63,1089.73L1715.59,1095.72L1717.54,1102.06L1719.50,1108.75L1721.46,1115.76L1723.42,1123.06L1725.38,1130.63L1727.33,1138.46L1729.29,1146.52L1731.25,1154.79L1733.21,1163.24L1735.17,1171.85L1737.13,1180.60L1739.08,1189.47L1741.04,1198.42L1743.00,1207.45L1744.96,1216.52L1746.92,1225.62L1748.87,1234.73L1750.83,1243.82L1752.79,1252.87L1754.75,1261.87L1756.71,1270.80L1758.67,1279.64L1760.62,1288.38L1762.58,1297.00L1764.54,1305.49L1766.50,1313.83L1768.46,1322.01L1770.41,1330.02L1772.37,1337.85L1774.33,1345.50L1776.29,1352.94L1778.25,1360.19L1780.21,1367.23L1782.16,1374.05L1784.12,1380.66L1786.08,1387.04L1788.04,1393.21L1790.00,1399.15L1791.96,1404.86L1793.91,1410.36L1795.87,1415.63L1797.83,1420.67L1799.79,1425.50L1801.75,1430.12L1803.70,1434.52L1805.66,1438.71L1807.62,1442.69L1809.58,1446.48L1811.54,1450.07L1813.50,1453.48L1815.45,1456.69L1817.41,1459.74L1819.37,1462.60L1821.33,1465.31L1823.29,1467.85L1825.24,1470.24L1827.20,1472.48L1829.16,1474.58L1831.12,1476.55L1833.08,1478.38L1835.04,1480.10L1836.99,1481.70L1838.95,1483.18L1840.91,1484.57L1842.87,1485.85L1844.83,1487.05L1846.78,1488.15L1848.74,1489.17L1850.70,1490.11L1852.66,1490.98L1854.62,1491.79L1856.58,1492.52L1858.53,1493.20L1860.49,1493.83L1862.45,1494.40L1864.41,1494.92L1866.37,1495.40L1868.32,1495.84L1870.28,1496.23L1872.24,1496.60L1874.20,1496.93L1876.16,1497.23L1878.12,1497.50L1880.07,1497.75L1882.03,1497.97L1883.99,1498.18L1885.95,1498.36L1887.91,1498.52L1889.87,1498.67L1891.82,1498.81L1893.78,1498.93L1895.74,1499.03L1897.70,1499.13L1899.66,1499.22L1901.61,1499.30L1903.57,1499.37L1905.53,1499.43L1907.49,1499.48L1909.45,1499.53L1911.41,1499.58L1913.36,1499.62L1915.32,1499.65L1917.28,1499.68L1919.24,1499.71L1921.20,1499.73L1923.15,1499.75L1925.11,1499.77L1927.07,1499.79L1929.03,1499.80L1930.99,1499.81L1932.95,1499.83L1934.90,1499.84L1936.86,1499.84L1938.82,1499.85L1940.78,1499.86L1942.74,1499.86L1944.69,1499.87L1946.65,1499.87L1948.61,1499.88L1950.57,1499.88L1952.53,1499.88L1954.49,1499.88L1956.44,1499.89L1958.40,1499.89L1960.36,1499.89L1962.32,1499.89L1964.28,1499.89L1966.24,1499.89" stroke="#FF0000" stroke-width="6" fill="none" stroke-linejoin="round"/>
<rect x="1268.60" y="820.00" width="709.70" height="679.50" fill="none" stroke="#262626" stroke-width="1.4"/>
<path d="M1386.88,1499.50V1491.80M1386.88,820.00V827.70M1505.17,1499.50V1491.80M1505.17,820.00V827.70M1623.45,1499.50V1491.80M1623.45,820.00V827.70M1741.73,1499.50V1491.80M1741.73,820.00V827.70M1860.02,1499.50V1491.80M1860.02,820.00V827.70M1268.60,1273.00H1276.30M1978.30,1273.00H1970.60M1268.60,1046.50H1276.30M1978.30,1046.50H1970.60" stroke="#262626" stroke-width="1.4" fill="none"/>
<text transform="translate(1268.60,1535.60) scale(1,1.07)" text-anchor="middle" font-size="28.2" font-weight="bold" fill="#262626">-200</text>
<text transform="translate(1386.88,1535.60) scale(1,1.07)" text-anchor="middle" font-size="28.2" font-weight="bold" fill="#262626">-150</text>
<text transform="translate(1505.17,1535.60) scale(1,1.07)" text-anchor="middle" font-size="28.2" font-weight="bold" fill="#262626">-100</text>
<text transform="translate(1623.45,1535.60) scale(1,1.07)" text-anchor="middle" font-size="28.2" font-weight="bold" fill="#262626">-50</text>
<text transform="translate(1741.73,1535.60) scale(1,1.07)" text-anchor="middle" font-size="28.2" font-weight="bold" fill="#262626">0</text>
<text transform="translate(1860.02,1535.60) scale(1,1.07)" text-anchor="middle" font-size="28.2" font-weight="bold" fill="#262626">50</text>
<text transform="translate(1978.30,1535.60) scale(1,1.07)" text-anchor="middle" font-size="28.2" font-weight="bold" fill="#262626">100</text>
<text transform="translate(1230.80,1510.40) scale(1,1.07)" text-anchor="end" font-size="28.2" font-weight="bold" fill="#262626">0</text>
<text transform="translate(1257.50,1283.90) scale(1,1.07)" text-anchor="end" font-size="28.2" font-weight="bold" fill="#262626">0.002</text>
<text transform="translate(1257.50,1057.40) scale(1,1.07)" text-anchor="end" font-size="28.2" font-weight="bold" fill="#262626">0.004</text>
<path d="M1679.5,859.80H1739.7" stroke="#000" stroke-width="6.2" fill="none"/>
<path d="M1679.5,900.90H1739.7" stroke="#FF0000" stroke-width="6.2" fill="none"/>
<text x="1745.5" y="872.60" font-size="36" font-weight="bold" fill="#000">Unconstained</text>
<text x="1745.5" y="913.10" font-size="36" font-weight="bold" fill="#000">Constrained</text>
<text x="1182.5" y="1159.80" transform="rotate(-90 1182.5 1159.80)" text-anchor="middle" font-size="36" font-weight="bold" fill="#262626">Probability</text>
</g>
<text x="290.07" y="763.00" font-size="31" font-weight="bold" fill="#262626">Present</text>
<text transform="translate(392.36,766.50) scale(0.92,1)" font-size="31" font-family="IPAGothic, Liberation Serif, serif" font-weight="normal" fill="#262626">γ</text>
<text x="415.26" y="778.10" font-size="24.8" font-weight="bold" fill="#262626">IAV,T</text>
<text x="490.94" y="763.00" font-size="31" font-weight="bold" fill="#262626">(PgC/yr/K)</text>
<text x="249.27" y="1571.70" font-size="31" font-weight="bold" fill="#262626">Present</text>
<text transform="translate(350.96,1575.20) scale(0.92,1)" font-size="31" font-family="IPAGothic, Liberation Serif, serif" font-weight="normal" fill="#262626">γ</text>
<text x="374.26" y="1587.00" font-size="24.8" font-weight="bold" fill="#262626">IAV,W</text>
<text x="457.84" y="1571.70" font-size="31" font-weight="bold" fill="#262626">(PgC/yr/Tt H</text>
<text x="634.36" y="1586.60" font-size="24.8" font-weight="bold" fill="#262626">2</text>
<text x="645.87" y="1571.70" font-size="31" font-weight="bold" fill="#262626">O)</text>
<g transform="translate(21.7,460.3) rotate(-90)"><text transform="translate(-5.74,3.50) scale(0.92,1)" font-size="31" font-family="IPAGothic, Liberation Serif, serif" font-weight="normal" fill="#262626">γ</text><text x="17.18" y="15.90" font-size="24.8" font-weight="bold" fill="#262626">LT</text><text x="58.04" y="0.00" font-size="31" font-weight="bold" fill="#262626">(PgC per K)</text></g>
<g transform="translate(21.7,1269.4) rotate(-90)"><text transform="translate(-5.74,3.50) scale(0.92,1)" font-size="31" font-family="IPAGothic, Liberation Serif, serif" font-weight="normal" fill="#262626">γ</text><text x="17.18" y="15.90" font-size="24.8" font-weight="bold" fill="#262626">LT</text><text x="58.04" y="0.00" font-size="31" font-weight="bold" fill="#262626">(PgC per K)</text></g>
<text transform="translate(1509.06,766.20) scale(0.92,1)" font-size="31" font-family="IPAGothic, Liberation Serif, serif" font-weight="normal" fill="#262626">γ</text>
<text x="1531.68" y="777.80" font-size="24.8" font-weight="bold" fill="#262626">LT</text>
<text x="1572.14" y="762.70" font-size="31" font-weight="bold" fill="#262626">(PgC per K)</text>
<text transform="translate(1509.06,1575.30) scale(0.92,1)" font-size="31" font-family="IPAGothic, Liberation Serif, serif" font-weight="normal" fill="#262626">γ</text>
<text x="1531.68" y="1586.90" font-size="24.8" font-weight="bold" fill="#262626">LT</text>
<text x="1572.14" y="1571.80" font-size="31" font-weight="bold" fill="#262626">(PgC per K)</text>
<text x="10.4" y="22.5" font-size="32" font-weight="bold" fill="#000">a</text>
<text x="1170.9" y="22.8" font-size="32" font-weight="bold" fill="#000">b</text>
<text x="10.5" y="831.6" font-size="32" font-weight="bold" fill="#000">c</text>
<text x="1168.7" y="831.8" font-size="32" font-weight="bold" fill="#000">d</text>
</svg></body></html>
